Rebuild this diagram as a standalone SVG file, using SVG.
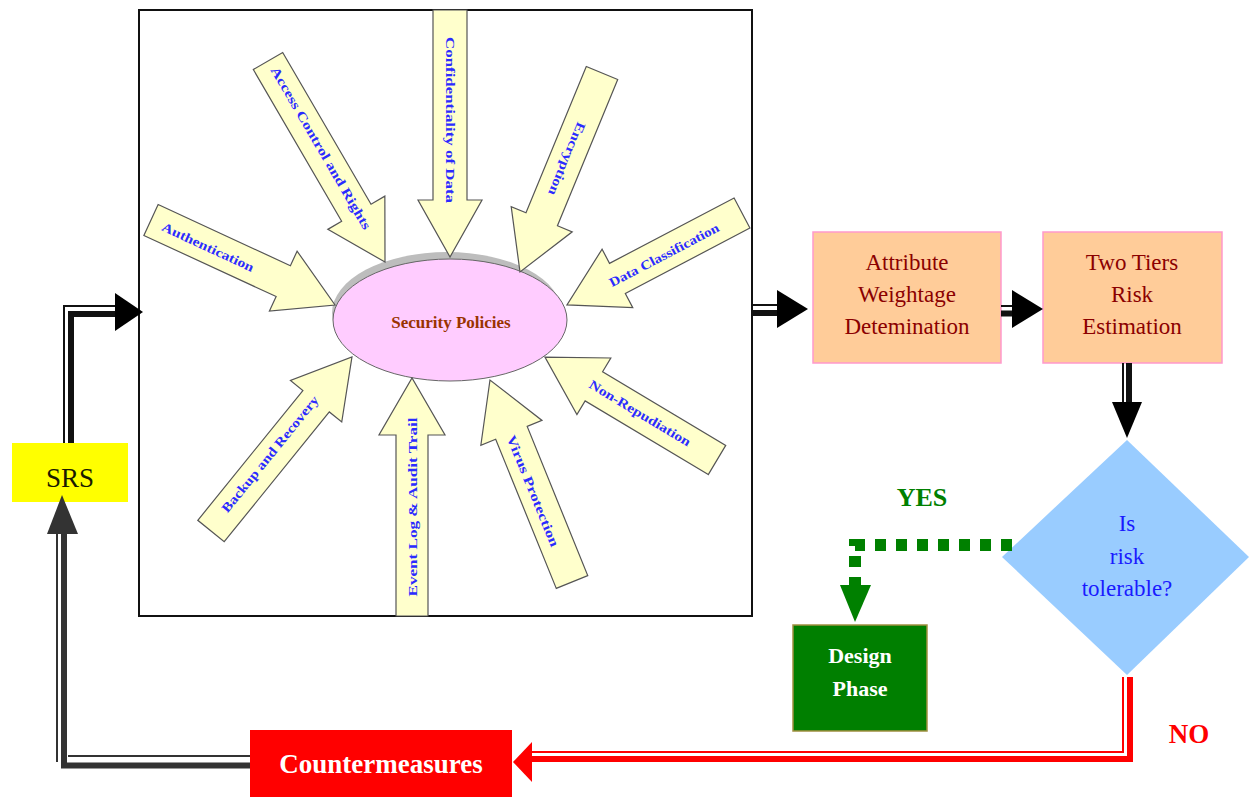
<svg xmlns="http://www.w3.org/2000/svg" width="1249" height="797" viewBox="0 0 1249 797">
<style>
text{font-family:"Liberation Serif","Times New Roman",serif}
.blk{fill:#ffffcc;stroke:#555;stroke-width:1.2}
.lbl{fill:#2b2bff;font-size:13px;font-weight:bold;text-anchor:middle;dominant-baseline:central}
.box{fill:#ffcc99;stroke:#ff99cc;stroke-width:1.5}
.boxt{fill:#8b0000;font-size:23px;text-anchor:middle}
.thin{fill:none;stroke-width:2}
.thick{fill:none;stroke-width:6}
</style>
<rect width="1249" height="797" fill="#fff"/>
<g id="policy-frame">
<rect x="139" y="10" width="613" height="606" fill="#fff" stroke="#111" stroke-width="2"/>
<ellipse cx="447" cy="313" rx="115" ry="61" fill="#bdbdbd"/>
<ellipse cx="450" cy="320" rx="117" ry="61" fill="#ffccff" stroke="#666" stroke-width="1"/>
<text x="451" y="322" fill="#993300" font-size="17" font-weight="bold" text-anchor="middle" dominant-baseline="central">Security Policies</text>
</g>
<g id="arrow-authentication">
<polygon class="blk" transform="translate(151,220) rotate(24.8)" points="0,-17 145.7,-17 145.7,-33 202.7,0 145.7,33 145.7,17 0,17"/>
<text class="lbl" x="208" y="247" transform="rotate(24.8 208 247)" textLength="100" lengthAdjust="spacingAndGlyphs" font-weight="normal">Authentication</text>
</g>
<g id="arrow-access">
<polygon class="blk" transform="translate(268,61) rotate(59.8)" points="0,-17 175.6,-17 175.6,-33 232.6,0 175.6,33 175.6,17 0,17"/>
<text class="lbl" x="321" y="148" transform="rotate(59.8 321 148)" textLength="186" lengthAdjust="spacingAndGlyphs">Access Control and Rights</text>
</g>
<g id="arrow-confidentiality">
<polygon class="blk" transform="translate(450,10) rotate(90)" points="0,-17 190,-17 190,-32 247,0 190,32 190,17 0,17"/>
<text class="lbl" x="450" y="120" transform="rotate(90 450 120)" textLength="166" lengthAdjust="spacingAndGlyphs">Confidentiality of Data</text>
</g>
<g id="arrow-encryption">
<polygon class="blk" transform="translate(602,73) rotate(112.4)" points="0,-17 158.2,-17 158.2,-33 215.2,0 158.2,33 158.2,17 0,17"/>
<text class="lbl" x="567" y="159" transform="rotate(112.4 567 159)" textLength="78" lengthAdjust="spacingAndGlyphs">Encryption</text>
</g>
<g id="arrow-classification">
<polygon class="blk" transform="translate(742,213) rotate(152.3)" points="0,-17 140.7,-17 140.7,-33 197.7,0 140.7,33 140.7,17 0,17"/>
<text class="lbl" x="664" y="255" transform="rotate(-27.7 664 255)" textLength="122" lengthAdjust="spacingAndGlyphs">Data Classification</text>
</g>
<g id="arrow-nonrepudiation">
<polygon class="blk" transform="translate(717,460) rotate(-149.1)" points="0,-17 143.5,-17 143.5,-33 200.5,0 143.5,33 143.5,17 0,17"/>
<text class="lbl" x="640" y="413" transform="rotate(30.9 640 413)" textLength="116" lengthAdjust="spacingAndGlyphs">Non-Repudiation</text>
</g>
<g id="arrow-virus">
<polygon class="blk" transform="translate(572,582) rotate(-112.1)" points="0,-17 161,-17 161,-33 218,0 161,33 161,17 0,17"/>
<text class="lbl" x="533" y="491" transform="rotate(67.9 533 491)" textLength="119" lengthAdjust="spacingAndGlyphs">Virus Protection</text>
</g>
<g id="arrow-eventlog">
<polygon class="blk" transform="translate(412,616) rotate(-90)" points="0,-16 181,-16 181,-33 238,0 181,33 181,16 0,16"/>
<text class="lbl" x="412" y="507" transform="rotate(-90 412 507)" textLength="179" lengthAdjust="spacingAndGlyphs">Event Log &amp;  Audit Trail</text>
</g>
<g id="arrow-backup">
<polygon class="blk" transform="translate(211,531) rotate(-51)" points="0,-17 167,-17 167,-33 224,0 167,33 167,17 0,17"/>
<text class="lbl" x="270" y="454" transform="rotate(-51 270 454)" textLength="146" lengthAdjust="spacingAndGlyphs">Backup and Recovery</text>
</g>
<g id="attribute-weightage">
<rect class="box" x="813" y="232" width="188" height="131"/>
<text class="boxt" x="907" y="270">Attribute</text>
<text class="boxt" x="907" y="302">Weightage</text>
<text class="boxt" x="907" y="334">Detemination</text>
</g>
<g id="risk-estimation">
<rect class="box" x="1043" y="232" width="179" height="131"/>
<text class="boxt" x="1132" y="270">Two Tiers</text>
<text class="boxt" x="1132" y="302">Risk</text>
<text class="boxt" x="1132" y="334">Estimation</text>
</g>
<g id="risk-decision">
<polygon points="1127,440 1249,557 1127,675 1002,557" fill="#99ccff"/>
<g fill="#1a1aff" font-size="23" text-anchor="middle">
<text x="1127" y="531">Is</text>
<text x="1127" y="564">risk</text>
<text x="1127" y="596">tolerable?</text>
</g>
</g>
<g id="design-phase">
<rect x="793" y="625" width="134" height="106" fill="#007f00" stroke="#a09040" stroke-width="1.5"/>
<text x="860" y="663" fill="#fff" font-size="22" font-weight="bold" text-anchor="middle">Design</text>
<text x="860" y="696" fill="#fff" font-size="22" font-weight="bold" text-anchor="middle">Phase</text>
</g>
<g id="srs">
<rect x="12" y="443" width="116" height="59" fill="#ffff00"/>
<text x="70" y="487" fill="#1a1a00" font-size="27" text-anchor="middle">SRS</text>
</g>
<g id="countermeasures">
<rect x="250" y="730" width="262" height="67" fill="#ff0000"/>
<text x="381" y="773" fill="#fff" font-size="27" font-weight="bold" text-anchor="middle">Countermeasures</text>
</g>
<g id="connectors">
<g stroke="#111">
<path class="thin" d="M64,443 V306 H118"/>
<path class="thick" d="M71,443 V314 H118"/>
<path class="thin" d="M752,305 H780"/>
<path class="thick" d="M752,313 H780"/>
<path class="thin" d="M1001,306 H1014"/>
<path class="thick" d="M1001,313.5 H1014"/>
<path class="thin" d="M1123,363 V404"/>
<path class="thick" d="M1129,363 V404"/>
</g>
<g fill="#000">
<polygon points="115,293 143,312 115,331"/>
<polygon points="777,290 808,309 777,328"/>
<polygon points="1012,290 1043,309 1012,328"/>
<polygon points="1112,402 1142,402 1127,438"/>
</g>
<g stroke="#333">
<path class="thin" d="M250,756 H68"/>
<path class="thin" d="M57,762 V532"/>
<path class="thick" d="M250,765.5 H64 V532"/>
</g>
<polygon points="47,534 62,495 78,534" fill="#333"/>
<g stroke="#ff0000">
<path class="thin" d="M1123,677 V752 H532"/>
<path class="thick" stroke-width="7" d="M1130,677 V759 H532"/>
</g>
<polygon points="532,742 513,762 532,782" fill="#ff0000"/>
<path d="M1012,545 H855 V585" fill="none" stroke="#008000" stroke-width="12" stroke-dasharray="11 10"/>
<polygon points="840,585 871,585 855,622" fill="#008000"/>
<text x="922" y="506" fill="#008000" font-size="26" font-weight="bold" text-anchor="middle">YES</text>
<text x="1189" y="743" fill="#ff0000" font-size="27" font-weight="bold" text-anchor="middle">NO</text>
</g>
</svg>
